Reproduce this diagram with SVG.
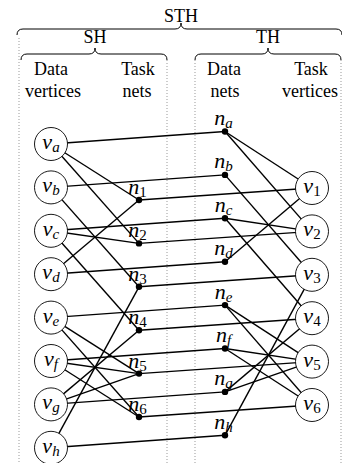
<svg xmlns="http://www.w3.org/2000/svg" width="342" height="463" viewBox="0 0 342 463" font-family="'Liberation Serif', 'DejaVu Serif', serif">
<style>
text{font-family:'Liberation Serif','DejaVu Serif',serif;fill:#000}
.h{font-size:18px;text-anchor:middle}
.m{font-size:22px;font-style:italic;text-anchor:middle}
.s{font-size:15px;font-style:italic}
.sn{font-size:15px;font-style:normal}
.brace{fill:none;stroke:#000;stroke-width:1}
.dot{stroke:#999;stroke-width:1;stroke-dasharray:1 2;fill:none}
#connectors line{stroke:#000;stroke-width:1.4}
.node circle.v{fill:#fff;stroke:#000;stroke-width:0.9}
.node circle.d{fill:#000}
</style>
<g id="frame">
<path class="brace" d="M17,35 Q17,29 23,29 L175,29 Q181,29 181,23 Q181,29 187,29 L336,29 Q342,29 342,35"/>
<path class="brace" d="M21,60 Q21,54 27,54 L89,54 Q95,54 95,48 Q95,54 101,54 L161,54 Q167,54 167,60"/>
<path class="brace" d="M195,60 Q195,54 201,54 L262,54 Q268,54 268,48 Q268,54 274,54 L335,54 Q341,54 341,60"/>
<line class="dot" x1="19" y1="38" x2="19" y2="463"/>
<line class="dot" x1="167" y1="60" x2="167" y2="463"/>
<line class="dot" x1="195" y1="60" x2="195" y2="463"/>
<line class="dot" x1="341" y1="60" x2="341" y2="463"/>
<text class="h" x="181" y="21.5">STH</text>
<text class="h" x="95" y="43">SH</text>
<text class="h" x="268" y="43">TH</text>
<text class="h" x="51" y="75">Data</text>
<text class="h" x="53" y="97">vertices</text>
<text class="h" x="138" y="75">Task</text>
<text class="h" x="137" y="97">nets</text>
<text class="h" x="224" y="75">Data</text>
<text class="h" x="225" y="97">nets</text>
<text class="h" x="311" y="75">Task</text>
<text class="h" x="310" y="97">vertices</text>
</g>
<g id="connectors">
<line x1="51" y1="144" x2="225" y2="131.5"/>
<line x1="51" y1="187.4" x2="225" y2="174.9"/>
<line x1="51" y1="230.8" x2="225" y2="218.3"/>
<line x1="51" y1="274.2" x2="225" y2="261.7"/>
<line x1="51" y1="317.6" x2="225" y2="305.1"/>
<line x1="51" y1="361" x2="225" y2="348.5"/>
<line x1="51" y1="404.4" x2="225" y2="391.9"/>
<line x1="51" y1="447.8" x2="225" y2="435.3"/>
<line x1="139" y1="200" x2="312" y2="188"/>
<line x1="139" y1="243.4" x2="312" y2="231.4"/>
<line x1="139" y1="286.8" x2="312" y2="274.8"/>
<line x1="139" y1="330.2" x2="312" y2="318.2"/>
<line x1="139" y1="373.6" x2="312" y2="361.6"/>
<line x1="139" y1="417" x2="312" y2="405"/>
<line x1="51" y1="144" x2="139" y2="200"/>
<line x1="51" y1="144" x2="139" y2="243.4"/>
<line x1="51" y1="187.4" x2="139" y2="286.8"/>
<line x1="51" y1="230.8" x2="139" y2="243.4"/>
<line x1="51" y1="230.8" x2="139" y2="330.2"/>
<line x1="51" y1="274.2" x2="139" y2="200"/>
<line x1="51" y1="317.6" x2="139" y2="373.6"/>
<line x1="51" y1="317.6" x2="139" y2="417"/>
<line x1="51" y1="361" x2="139" y2="373.6"/>
<line x1="51" y1="361" x2="139" y2="417"/>
<line x1="51" y1="404.4" x2="139" y2="330.2"/>
<line x1="51" y1="404.4" x2="139" y2="373.6"/>
<line x1="51" y1="447.8" x2="139" y2="286.8"/>
<line x1="225" y1="131.5" x2="312" y2="188"/>
<line x1="225" y1="131.5" x2="312" y2="231.4"/>
<line x1="225" y1="174.9" x2="312" y2="274.8"/>
<line x1="225" y1="218.3" x2="312" y2="231.4"/>
<line x1="225" y1="218.3" x2="312" y2="318.2"/>
<line x1="225" y1="261.7" x2="312" y2="188"/>
<line x1="225" y1="305.1" x2="312" y2="361.6"/>
<line x1="225" y1="305.1" x2="312" y2="405"/>
<line x1="225" y1="348.5" x2="312" y2="361.6"/>
<line x1="225" y1="348.5" x2="312" y2="405"/>
<line x1="225" y1="391.9" x2="312" y2="318.2"/>
<line x1="225" y1="391.9" x2="312" y2="361.6"/>
<line x1="225" y1="435.3" x2="312" y2="274.8"/>
</g>
<g id="v_a" class="node"><circle class="v" cx="51" cy="144" r="16.5"/><text class="m" x="51" y="149">v<tspan class="s" dy="3">a</tspan></text></g>
<g id="v_b" class="node"><circle class="v" cx="51" cy="187.4" r="16.5"/><text class="m" x="51" y="192.4">v<tspan class="s" dy="3">b</tspan></text></g>
<g id="v_c" class="node"><circle class="v" cx="51" cy="230.8" r="16.5"/><text class="m" x="51" y="235.8">v<tspan class="s" dy="3">c</tspan></text></g>
<g id="v_d" class="node"><circle class="v" cx="51" cy="274.2" r="16.5"/><text class="m" x="51" y="279.2">v<tspan class="s" dy="3">d</tspan></text></g>
<g id="v_e" class="node"><circle class="v" cx="51" cy="317.6" r="16.5"/><text class="m" x="51" y="322.6">v<tspan class="s" dy="3">e</tspan></text></g>
<g id="v_f" class="node"><circle class="v" cx="51" cy="361" r="16.5"/><text class="m" x="51" y="366">v<tspan class="s" dy="3">f</tspan></text></g>
<g id="v_g" class="node"><circle class="v" cx="51" cy="404.4" r="16.5"/><text class="m" x="51" y="409.4">v<tspan class="s" dy="3">g</tspan></text></g>
<g id="v_h" class="node"><circle class="v" cx="51" cy="447.8" r="16.5"/><text class="m" x="51" y="452.8">v<tspan class="s" dy="3">h</tspan></text></g>
<g id="n_1" class="node"><circle class="d" cx="139" cy="200" r="3.2"/><text class="m" x="137.5" y="194">n<tspan class="sn" dy="3">1</tspan></text></g>
<g id="n_2" class="node"><circle class="d" cx="139" cy="243.4" r="3.2"/><text class="m" x="137.5" y="237.4">n<tspan class="sn" dy="3">2</tspan></text></g>
<g id="n_3" class="node"><circle class="d" cx="139" cy="286.8" r="3.2"/><text class="m" x="137.5" y="280.8">n<tspan class="sn" dy="3">3</tspan></text></g>
<g id="n_4" class="node"><circle class="d" cx="139" cy="330.2" r="3.2"/><text class="m" x="137.5" y="324.2">n<tspan class="sn" dy="3">4</tspan></text></g>
<g id="n_5" class="node"><circle class="d" cx="139" cy="373.6" r="3.2"/><text class="m" x="137.5" y="367.6">n<tspan class="sn" dy="3">5</tspan></text></g>
<g id="n_6" class="node"><circle class="d" cx="139" cy="417" r="3.2"/><text class="m" x="137.5" y="411">n<tspan class="sn" dy="3">6</tspan></text></g>
<g id="n_a" class="node"><circle class="d" cx="225" cy="131.5" r="3.2"/><text class="m" x="223.5" y="125">n<tspan class="s" dy="3">a</tspan></text></g>
<g id="n_b" class="node"><circle class="d" cx="225" cy="174.9" r="3.2"/><text class="m" x="223.5" y="168.4">n<tspan class="s" dy="3">b</tspan></text></g>
<g id="n_c" class="node"><circle class="d" cx="225" cy="218.3" r="3.2"/><text class="m" x="223.5" y="211.8">n<tspan class="s" dy="3">c</tspan></text></g>
<g id="n_d" class="node"><circle class="d" cx="225" cy="261.7" r="3.2"/><text class="m" x="223.5" y="255.2">n<tspan class="s" dy="3">d</tspan></text></g>
<g id="n_e" class="node"><circle class="d" cx="225" cy="305.1" r="3.2"/><text class="m" x="223.5" y="298.6">n<tspan class="s" dy="3">e</tspan></text></g>
<g id="n_f" class="node"><circle class="d" cx="225" cy="348.5" r="3.2"/><text class="m" x="223.5" y="342">n<tspan class="s" dy="3">f</tspan></text></g>
<g id="n_g" class="node"><circle class="d" cx="225" cy="391.9" r="3.2"/><text class="m" x="223.5" y="385.4">n<tspan class="s" dy="3">g</tspan></text></g>
<g id="n_h" class="node"><circle class="d" cx="225" cy="435.3" r="3.2"/><text class="m" x="223.5" y="428.8">n<tspan class="s" dy="3">h</tspan></text></g>
<g id="v_1" class="node"><circle class="v" cx="312" cy="188" r="16.5"/><text class="m" x="312" y="193">v<tspan class="sn" dy="3">1</tspan></text></g>
<g id="v_2" class="node"><circle class="v" cx="312" cy="231.4" r="16.5"/><text class="m" x="312" y="236.4">v<tspan class="sn" dy="3">2</tspan></text></g>
<g id="v_3" class="node"><circle class="v" cx="312" cy="274.8" r="16.5"/><text class="m" x="312" y="279.8">v<tspan class="sn" dy="3">3</tspan></text></g>
<g id="v_4" class="node"><circle class="v" cx="312" cy="318.2" r="16.5"/><text class="m" x="312" y="323.2">v<tspan class="sn" dy="3">4</tspan></text></g>
<g id="v_5" class="node"><circle class="v" cx="312" cy="361.6" r="16.5"/><text class="m" x="312" y="366.6">v<tspan class="sn" dy="3">5</tspan></text></g>
<g id="v_6" class="node"><circle class="v" cx="312" cy="405" r="16.5"/><text class="m" x="312" y="410">v<tspan class="sn" dy="3">6</tspan></text></g>
</svg>
